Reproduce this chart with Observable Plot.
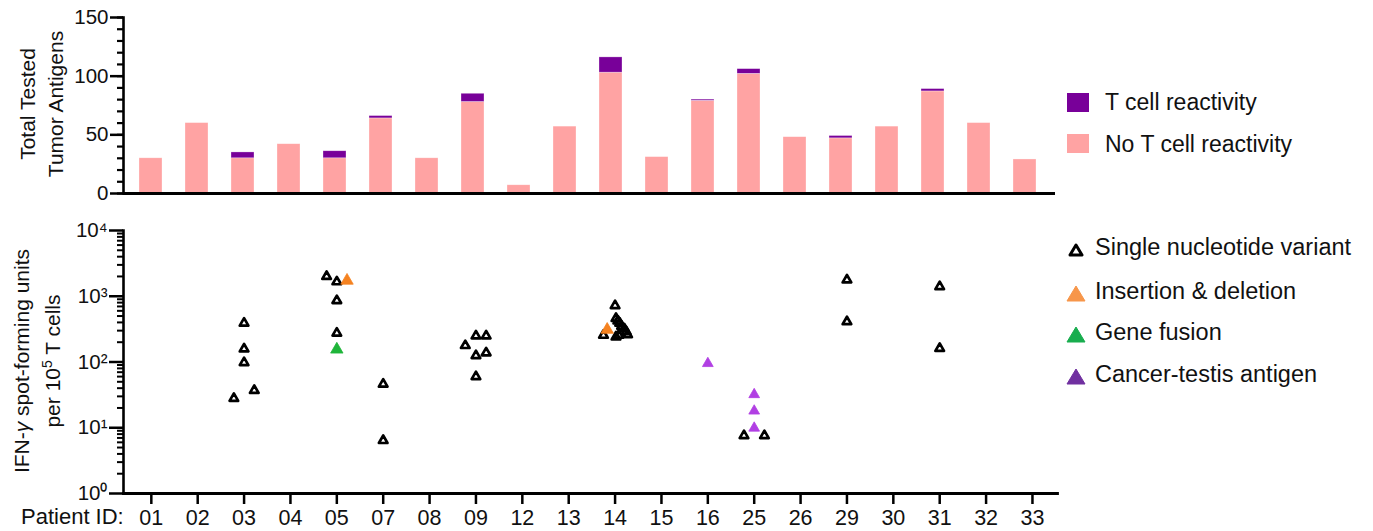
<!DOCTYPE html>
<html><head><meta charset="utf-8">
<script src="https://cdn.jsdelivr.net/npm/d3@7"></script>
<script src="https://cdn.jsdelivr.net/npm/@observablehq/plot@0.6"></script>
<style>
body{margin:0;background:#fff;font-family:"Liberation Sans",Arial,Helvetica,sans-serif;color:#111;}
#wrap{position:relative;width:1373px;height:531px;overflow:hidden;background:#fff;}
#top{position:absolute;left:0;top:0;}
#bottom{position:absolute;left:0;top:205px;}
.abs{position:absolute;white-space:nowrap;}
.leg{font-size:23px;line-height:23px;}
.leg2{font-size:23.5px;line-height:23.5px;}
.ytitle{position:absolute;transform:translate(-50%,-50%) rotate(-90deg);text-align:center;white-space:nowrap;font-size:21px;}
.sw{position:absolute;}
svg text{font-family:"Liberation Sans",Arial,Helvetica,sans-serif;}
</style></head><body>
<div id="wrap">
  <div id="top"></div>
  <div id="bottom"></div>
  <div class="ytitle" style="left:42px;top:104px;line-height:28px;">Total Tested<br>Tumor Antigens</div>
  <div class="ytitle" style="left:37px;top:361px;line-height:31px;">IFN-<i>γ</i> spot-forming units<br>per 10<sup style="font-size:14px;line-height:0">5</sup> T cells</div>
  <div class="abs" style="left:21px;top:506px;font-size:22px;line-height:22px;">Patient ID:</div>
  <div id="legTop"></div>
  <div id="legBottom"></div>
</div>
<script>
// ---------- data ----------
const patients = ["01","02","03","04","05","07","08","09","12","13","14","15","16","25","26","29","30","31","32","33"];
const noReactivity = [30,60,30,42,30,64,30,78,7,57,103,31,79,102,48,47,57,87,60,29];
const reactivity   = [0,0,5,0,6,2,0,7,0,0,13,0,1,4,0,2,0,2,0,0];

const barGroups = ["No T cell reactivity","T cell reactivity"];
const barColors = ["#ffa3a3","#780099"];

const spotPatient = ["03","03","03","03","03",
  "05","05","05","05","05","05",
  "07","07",
  "09","09","09","09","09","09",
  "14","14","14","14","14","14","14","14","14","14","14","14",
  "16",
  "25","25","25","25","25",
  "29","29",
  "31","31"];
const spotValue = [390,158,98,28,37,
  2000,1660,860,275,1730,155,
  46,6.4,
  178,250,250,125,138,60,
  720,460,420,390,350,320,290,260,255,240,255,310,
  95,
  32,18,9.9,7.6,7.6,
  1770,410,
  1400,161];
const spotJitter = [0,0,0,-0.22,0.22,
  -0.22,0,0,0,0.22,0,
  0,0,
  -0.23,0,0.22,0,0.22,0,
  0,0.02,0.06,0.1,0.14,0.2,0.24,0.27,0.08,0.02,-0.25,-0.17,
  0,
  0,0,0,-0.22,0.22,
  0,0,
  0,0];
const spotType = ["SNV","SNV","SNV","SNV","SNV",
  "SNV","SNV","SNV","SNV","Indel","Fusion",
  "SNV","SNV",
  "SNV","SNV","SNV","SNV","SNV","SNV",
  "SNV","SNV","SNV","SNV","SNV","SNV","SNV","SNV","SNV","SNV","SNV","Indel",
  "CTA",
  "CTA","CTA","CTA","SNV","SNV",
  "SNV","SNV",
  "SNV","SNV"];

const typeKeys = ["SNV","Indel","Fusion","CTA"];
const typeLabels = ["Single nucleotide variant","Insertion & deletion","Gene fusion","Cancer-testis antigen"];
const pointColors = ["#000000","#f58220","#1fb53a","#b13fe3"];
const legendColors = ["#000000","#f7964a","#18ad4e","#7030a0"];

const barTicksMajor = [0,50,100,150];
const barTicksMinor = d3.range(0,151,10);
const logTicksMajor = [1,10,100,1000,10000];
const logTicksMinor = [];
[1,10,100,1000].forEach(b => { for (let k=2;k<=9;k++) logTicksMinor.push(b*k); });
const supDigits = ["⁰","¹","²","³","⁴","⁵"];

// ---------- top chart ----------
const barRows = [];
patients.forEach((p,i) => {
  barRows.push({patient:p, group:barGroups[0], value:noReactivity[i]});
  barRows.push({patient:p, group:barGroups[1], value:reactivity[i]});
});

const topPlot = Plot.plot({
  width:1373, height:205,
  marginLeft:123, marginRight:318, marginTop:17, marginBottom:12,
  x:{type:"band", domain:patients, range:[110.8,1064], padding:0.5, axis:null},
  y:{domain:[0,150]},
  color:{domain:barGroups, range:barColors},
  marks:[
    Plot.barY(barRows, {x:"patient", y:"value", fill:"group", stroke:"#fff", strokeOpacity:0.5, strokeWidth:0.6}),
    Plot.axisY({ticks:barTicksMinor, tickSize:6, tickFormat:()=>"", stroke:"#000", strokeWidth:2.2, label:null}),
    Plot.axisY({ticks:barTicksMajor, tickSize:13, tickPadding:2, fontSize:20.5, stroke:"#000", fill:"#111", strokeWidth:2.5, label:null}),
    Plot.frame({anchor:"left", stroke:"#000", strokeWidth:2.6}),
    Plot.ruleY([0], {stroke:"#000", strokeWidth:2.8})
  ]
});
document.getElementById("top").appendChild(topPlot);

// ---------- bottom chart ----------
const spots = spotValue.map((v,i) => ({
  idx: patients.indexOf(spotPatient[i]) + spotJitter[i],
  value: v,
  type: spotType[i]
}));

const bottomPlot = Plot.plot({
  width:1373, height:326,
  marginLeft:123, marginRight:316, marginTop:25, marginBottom:38,
  x:{type:"linear", domain:[-0.6,19.54]},
  y:{type:"log", domain:[1,10000]},
  color:{domain:typeKeys, range:pointColors},
  marks:[
    Plot.axisY({ticks:logTicksMinor, tickSize:6, tickFormat:()=>"", stroke:"#000", strokeWidth:2, label:null}),
    Plot.axisY({ticks:logTicksMajor, tickSize:14, tickPadding:2, fontSize:20.5, stroke:"#000", fill:"#111", strokeWidth:2.5, label:null,
      tickFormat:d => "10" + supDigits[Math.round(Math.log10(d))]}),
    Plot.axisX({ticks:d3.range(patients.length), tickSize:11, tickPadding:5, fontSize:21.5, stroke:"#000", fill:"#111", strokeWidth:2.5, label:null,
      tickFormat:i => patients[i]}),
    Plot.frame({anchor:"left", stroke:"#000", strokeWidth:2.6}),
    Plot.frame({anchor:"bottom", stroke:"#000", strokeWidth:2.8}),
    Plot.dot(spots.filter(d=>d.type==="SNV"), {x:"idx", y:"value", symbol:"triangle", r:3.2, fill:"none", stroke:"#000", strokeWidth:2.7, strokeLinejoin:"round"}),
    Plot.dot(spots.filter(d=>d.type==="Indel"||d.type==="Fusion"), {x:"idx", y:"value", symbol:"triangle", r:4.6, fill:"type", stroke:"type", strokeWidth:0.8, strokeLinejoin:"round"}),
    Plot.dot(spots.filter(d=>d.type==="CTA"), {x:"idx", y:"value", symbol:"triangle", r:4.0, fill:"type", stroke:"type", strokeWidth:0.8, strokeLinejoin:"round"})
  ]
});
document.getElementById("bottom").appendChild(bottomPlot);

// ---------- legends ----------
const legTop = document.getElementById("legTop");
const topRows = [{label:barGroups[1], color:barColors[1], top:93, base:110},
                 {label:barGroups[0], color:barColors[0], top:134, base:152}];
topRows.forEach(r => {
  const sw = document.createElement("div");
  sw.className = "sw";
  sw.style.cssText = `left:1067px;top:${r.top}px;width:22px;height:19px;background:${r.color};`;
  legTop.appendChild(sw);
  const t = document.createElement("div");
  t.className = "abs leg";
  t.style.cssText = `left:1105px;top:${r.base-19.5}px;`;
  t.textContent = r.label;
  legTop.appendChild(t);
});

const legBottom = document.getElementById("legBottom");
const bases = [256,300,341,383];
typeKeys.forEach((k,i) => {
  const ns = "http://www.w3.org/2000/svg";
  const s = document.createElementNS(ns,"svg");
  s.setAttribute("width","22"); s.setAttribute("height","20");
  s.style.cssText = `position:absolute;left:1065px;top:${bases[i]-16}px;`;
  const p = document.createElementNS(ns,"path");
  if (k==="SNV") {
    p.setAttribute("d","M11,5 L17,15 L5,15 Z");
    p.setAttribute("fill","none"); p.setAttribute("stroke","#000"); p.setAttribute("stroke-width","3");
    p.setAttribute("stroke-linejoin","round");
  } else {
    p.setAttribute("d","M11,2 L20,17 L2,17 Z");
    p.setAttribute("fill",legendColors[i]); p.setAttribute("stroke",legendColors[i]);
    p.setAttribute("stroke-width","1"); p.setAttribute("stroke-linejoin","round");
  }
  s.appendChild(p);
  legBottom.appendChild(s);
  const t = document.createElement("div");
  t.className = "abs leg2";
  t.style.cssText = `left:1095px;top:${bases[i]-20}px;`;
  t.textContent = typeLabels[i];
  legBottom.appendChild(t);
});
</script>
</body></html>
